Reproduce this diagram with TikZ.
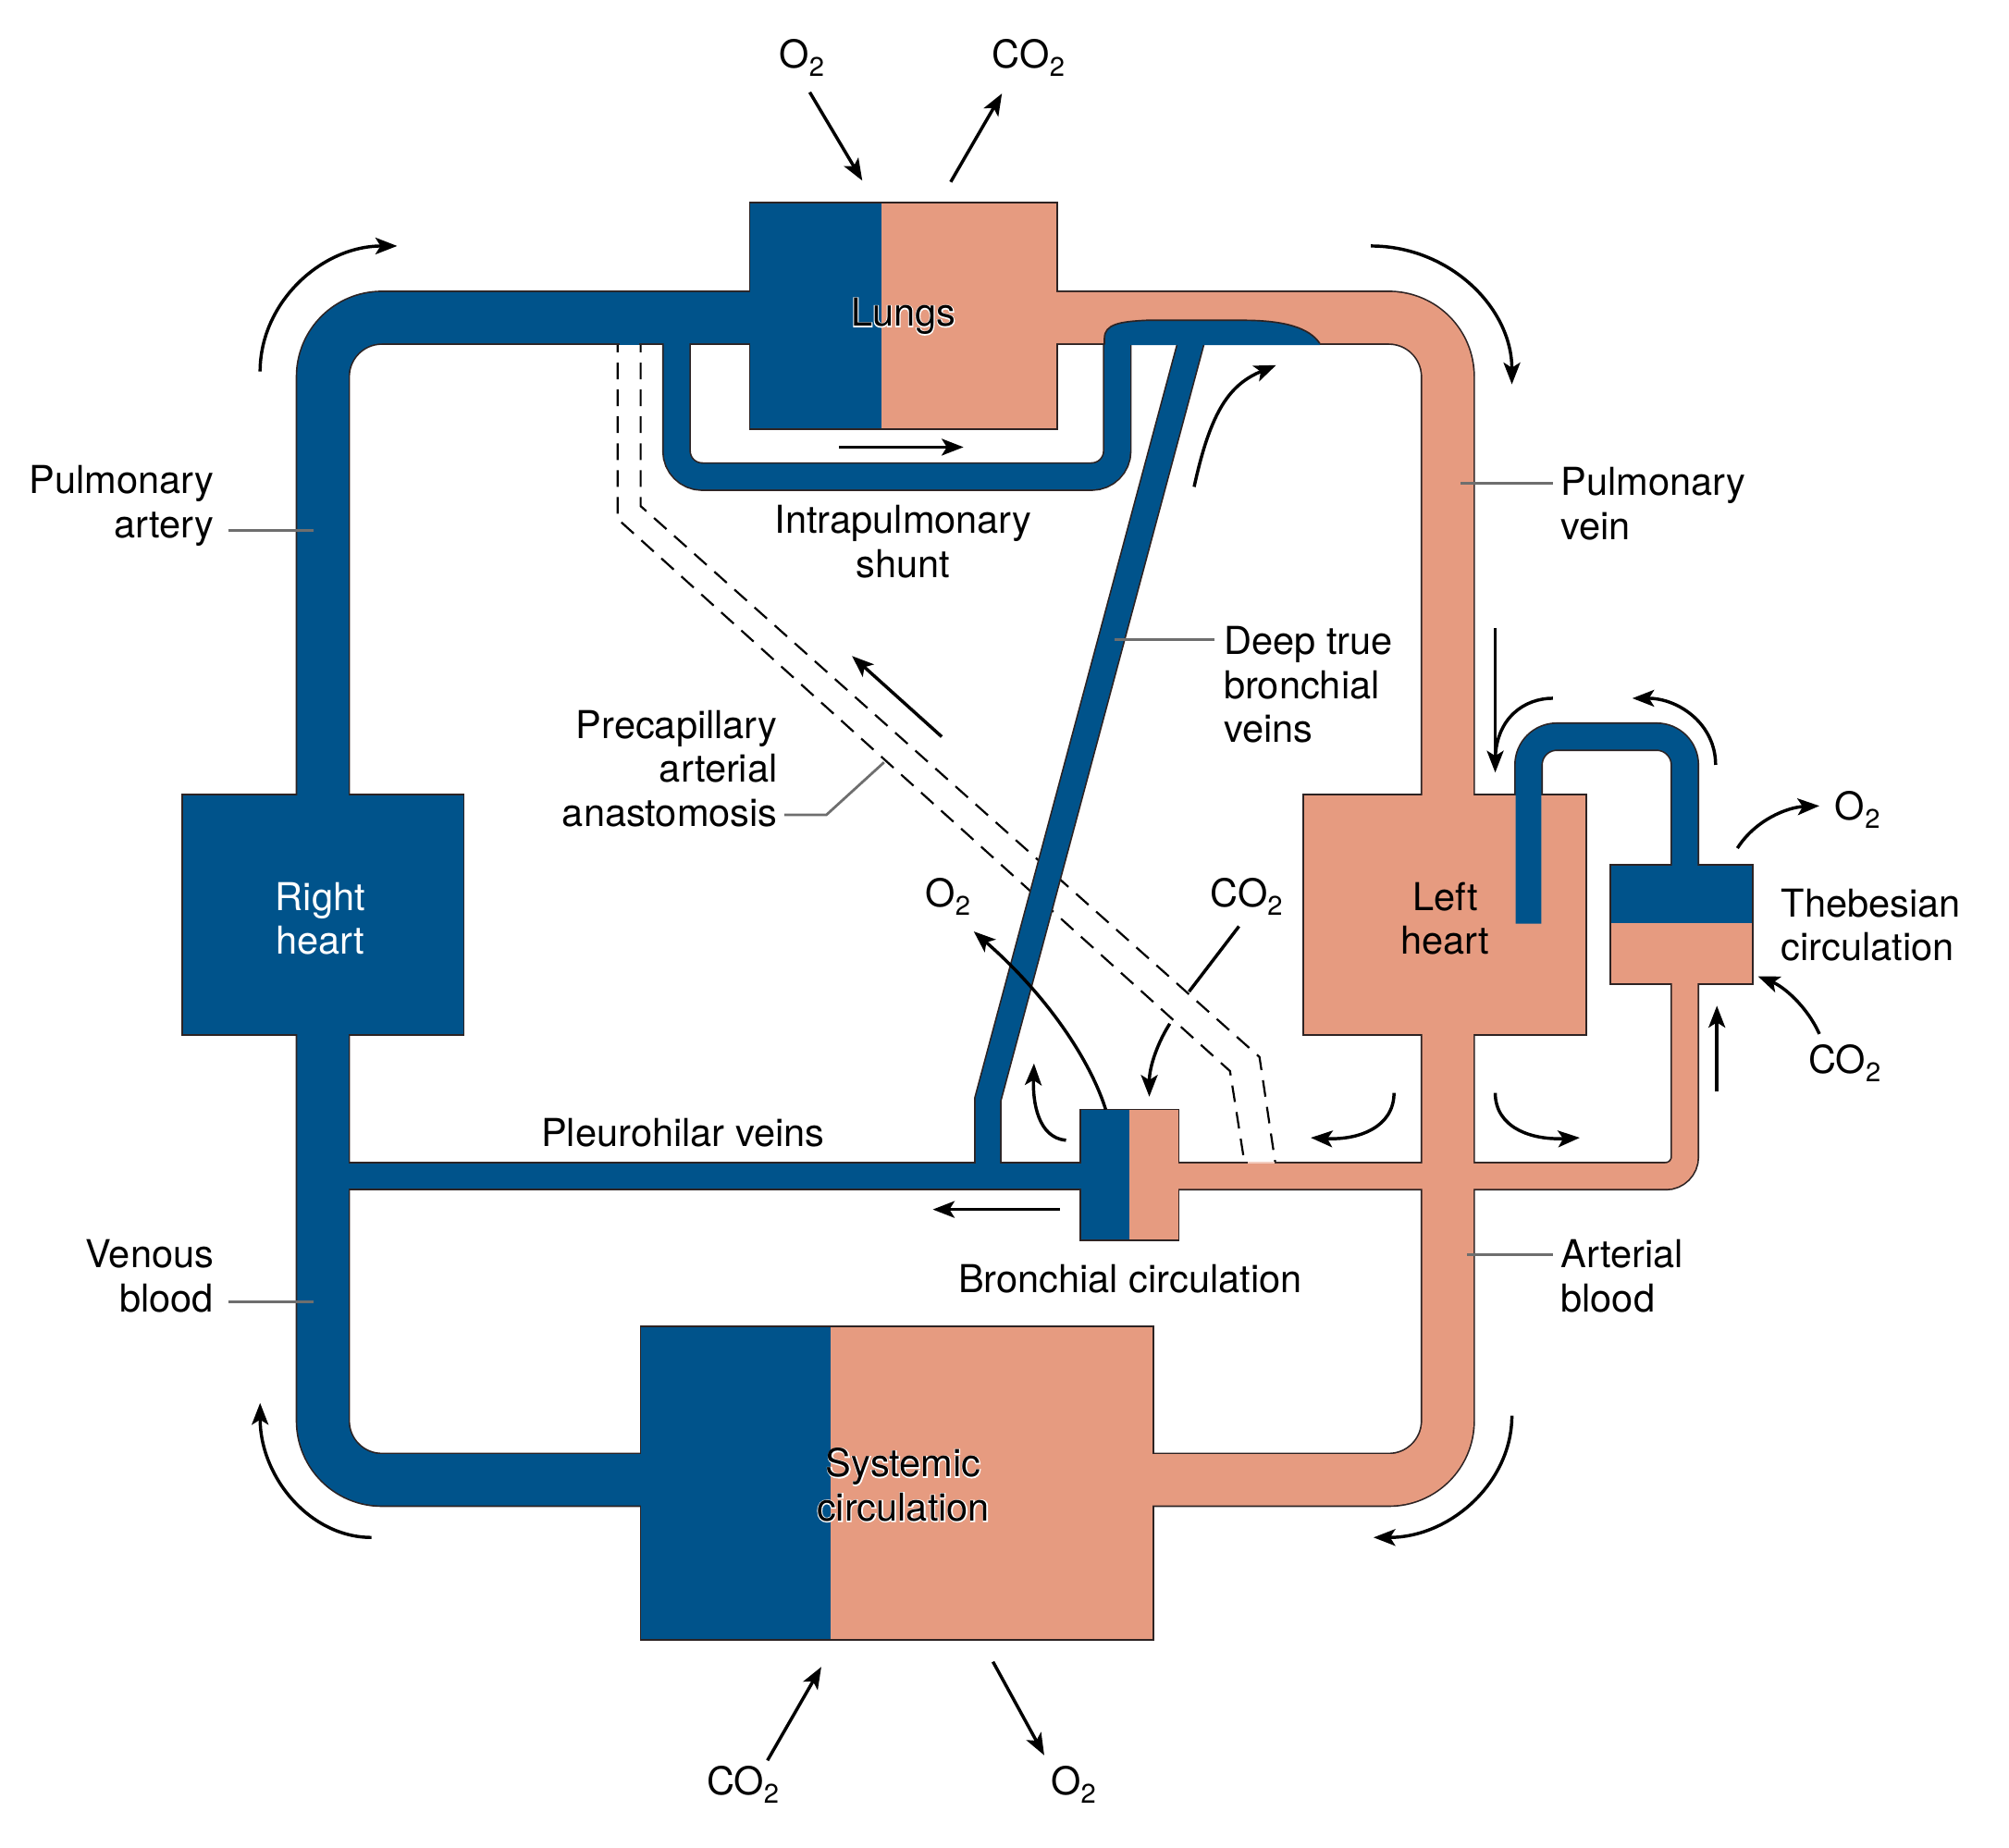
\documentclass[tikz,border=0pt]{standalone}
\usepackage{fontspec}
\setmainfont{TeX Gyre Heros}
\newfontfamily\halofont[FakeBold=5]{TeX Gyre Heros}
\usetikzlibrary{arrows.meta}
\definecolor{cven}{RGB}{0,83,139}
\definecolor{cart}{RGB}{230,155,128}
\definecolor{cedge}{RGB}{45,35,35}
\definecolor{cgray}{RGB}{110,110,110}
\newcommand{\Otwo}{O\textsubscript{2}}
\newcommand{\COtwo}{CO\textsubscript{2}}

\begin{document}
\begin{tikzpicture}[x=1pt,y=-1pt,
  font=\fontsize{30}{34.4}\selectfont,
  lbl/.style={inner sep=0pt,align=center},
  halo/.style={lbl,text=white,font=\halofont\fontsize{30}{34.4}\selectfont},
  rimbig/.style={draw=cedge,line width=42.4pt},
  bluebig/.style={draw=cven,line width=40pt},
  pinkbig/.style={draw=cart,line width=40pt},
  rimthin/.style={draw=cedge,line width=22.4pt},
  bluethin/.style={draw=cven,line width=20pt},
  pinkthin/.style={draw=cart,line width=20pt},
  organ/.style={draw=cedge,line width=1.2pt},
  flow/.style={-{Stealth[length=17pt,width=13pt,inset=4pt]},line width=2.5pt},
  lead/.style={draw=cgray,line width=2pt},
  dashv/.style={dash pattern=on 13pt off 8pt,line width=1.6pt},
]
\useasboundingbox (0,0) rectangle (1568,1442);

% precapillary anastomosis (behind the vessels)
\draw[dashv] (482,262) -- (482,405) -- (960,836) -- (972,912);
\draw[dashv] (500,262) -- (500,395) -- (983,825) -- (996,912);

% vessel rims
\draw[rimbig,rounded corners=46pt] (600,248) -- (252,248) -- (252,1155) -- (510,1155);
\draw[rimbig,rounded corners=46pt] (810,248) -- (1130,248) -- (1130,1155) -- (890,1155);
\draw[rimthin] (252,918) -- (850,918);
\draw[rimthin,rounded corners=15pt] (912,918) -- (1315,918) -- (1315,760);
\draw[rimthin,rounded corners=20pt] (528,248) -- (528,372) -- (872,372) -- (872,262);
\draw[rimthin,line width=21.4pt] (771,918) -- (771,858) -- (931,262);
\draw[rimthin,rounded corners=22pt] (1193,721) -- (1193,575) -- (1315,575) -- (1315,683);

% organs
\fill[cven] (585,158) rectangle (688,335);
\fill[cart] (688,158) rectangle (825,335);
\draw[organ] (585,158) rectangle (825,335);
\node[organ,fill=cven,minimum width=220pt,minimum height=188pt] (rheart) at (252,714) {};
\node[organ,fill=cart,minimum width=221pt,minimum height=188pt] (lheart) at (1127.5,714) {};
\fill[cven] (500,1035) rectangle (648,1280);
\fill[cart] (648,1035) rectangle (900,1280);
\draw[organ] (500,1035) rectangle (900,1280);
\fill[cven] (843,866) rectangle (881.5,968);
\fill[cart] (881.5,866) rectangle (920,968);
\draw[organ] (843,866) rectangle (920,968);
\fill[cven] (1257,675) rectangle (1368,720.5);
\fill[cart] (1257,720.5) rectangle (1368,768);
\draw[organ] (1257,675) rectangle (1368,768);

% vessel lumen
\draw[bluebig,rounded corners=46pt] (600,248) -- (252,248) -- (252,1155) -- (510,1155);
\draw[pinkbig,rounded corners=46pt] (810,248) -- (1130,248) -- (1130,1155) -- (890,1155);
\draw[bluethin] (252,918) -- (850,918);
\draw[pinkthin,rounded corners=15pt] (912,918) -- (1315,918) -- (1315,760);
\draw[bluethin,rounded corners=20pt] (528,248) -- (528,372) -- (872,372) -- (872,262);
\draw[bluethin,line width=19pt] (771,918) -- (771,858) -- (931,262);
\draw[bluethin,rounded corners=22pt] (1193,721) -- (1193,575) -- (1315,575) -- (1315,683);

% deep bronchial veins opening into the pulmonary vein
\fill[cven] (862,269.4) -- (862,264) .. controls (862,253) and (874,251) .. (895,250)
  -- (970,250) .. controls (1003,250) and (1022,256) .. (1030,268) -- (1030,269.4) -- cycle;
\draw[cedge,line width=1.2pt] (862,269) -- (862,264) .. controls (862,253) and (874,251) .. (895,250)
  -- (970,250) .. controls (1003,250) and (1022,256) .. (1030,268);
\fill[cven] (483.5,266.5) rectangle (498.5,269.5);
\fill[cart!50] (973.5,906.5) rectangle (995,908.3);

% organ names
\node[halo] at (705,247) {Lungs};
\node[halo] at (705,1159) {Systemic\\circulation};
\node[lbl] (lungslbl) at (705,247) {Lungs};
\node[lbl] (syslbl) at (705,1159) {Systemic\\circulation};
\node[lbl,text=white] (rheartlbl) at (250,717) {Right\\heart};
\node[lbl] (lheartlbl) at (1128,717) {Left\\heart};

% vessel labels
\node[lbl,anchor=east,align=right] (partery) at (167,395) {Pulmonary\\artery};
\node[lbl,anchor=west,align=left] (pvein) at (1218,393) {Pulmonary\\vein};
\node[lbl,anchor=east,align=right] (vblood) at (167,996) {Venous\\blood};
\node[lbl,anchor=west,align=left] (ablood) at (1218,996) {Arterial\\blood};
\node[lbl] (shunt) at (705,423) {Intrapulmonary\\shunt};
\node[lbl,anchor=west,align=left] (deepv) at (955,534.5) {Deep true\\bronchial\\veins};
\node[lbl,anchor=east,align=right] (precap) at (607,600) {Precapillary\\arterial\\anastomosis};
\node[lbl] (pleuro) at (533,884) {Pleurohilar veins};
\node[lbl] (bronch) at (882,998) {Bronchial circulation};
\node[lbl,anchor=west,align=left] (thebes) at (1390,722) {Thebesian\\circulation};

% leaders
\coordinate (paEnd) at (245,414);
\coordinate (pvEnd) at (1140,377);
\coordinate (vbEnd) at (245,1016);
\coordinate (abEnd) at (1145,979);
\coordinate (dvEnd) at (870,499);
\coordinate (anEnd) at (690,595);
\draw[lead] ([xshift=11pt]partery.east |- paEnd) -- (paEnd);
\draw[lead] ([xshift=-6pt]pvein.west |- pvEnd) -- (pvEnd);
\draw[lead] ([xshift=11pt]vblood.east |- vbEnd) -- (vbEnd);
\draw[lead] ([xshift=-6pt]ablood.west |- abEnd) -- (abEnd);
\draw[lead] ([xshift=-7pt]deepv.west |- dvEnd) -- (dvEnd);
\draw[lead] ([xshift=5pt]precap.east |- 0,636) -- (645,636) -- (anEnd);

% gases
\node[lbl] (o2lung) at (626,45) {\Otwo};
\node[lbl] (co2lung) at (803,45) {\COtwo};
\node[lbl] (o2bron) at (740,700) {\Otwo};
\node[lbl] (co2bron) at (973,700) {\COtwo};
\node[lbl] (o2theb) at (1450,632) {\Otwo};
\node[lbl] (co2theb) at (1440,830) {\COtwo};
\node[lbl] (co2sys) at (580,1393) {\COtwo};
\node[lbl] (o2sys) at (838,1393) {\Otwo};

\draw[flow] (632,72) -- (673,141);
\draw[flow] (742,142) -- (782,73);
\draw[flow] (599,1374) -- (641,1301);
\draw[flow] (775,1297) -- (815,1370);
\draw[flow] (863,866) .. controls (850,825) and (815,775) .. (760,727);
\draw[line width=2.5pt] (967,723) -- (928,774);
\draw[flow] (913,799) .. controls (904,813) and (897,832) .. (897,856);
\draw[flow] (1356,662) .. controls (1370,640) and (1395,630) .. (1420,629);
\draw[flow] (1420,807) .. controls (1410,785) and (1392,770) .. (1372,762);

% flow directions
\draw[flow] (203,290) .. controls (203,236) and (251,192) .. (310,192);
\draw[flow] (1070,192) .. controls (1131,192) and (1180,240) .. (1180,300);
\draw[flow] (1180,1105) .. controls (1180,1157) and (1132,1200) .. (1072,1200);
\draw[flow] (290,1200) .. controls (242,1200) and (203,1153) .. (203,1095);
\draw[flow] (655,349) -- (752,349);
\draw[flow] (735,575) -- (665,512);
\draw[flow] (932,380) .. controls (945,320) and (960,300) .. (996,285);
\draw[flow] (827,944) -- (728,944);
\draw[flow] (832,890) .. controls (810,888) and (806,860) .. (807,830);
\draw[flow] (1088,853) .. controls (1088,880) and (1060,890) .. (1023,888);
\draw[flow] (1167,853) .. controls (1167,880) and (1195,890) .. (1233,888);
\draw[flow] (1167,490) -- (1167,603);
\draw[line width=2.5pt] (1212,545) .. controls (1190,545) and (1168,560) .. (1167,592);
\draw[flow] (1339,597) .. controls (1339,565) and (1310,545) .. (1274,545);
\draw[flow] (1340,852) -- (1340,785);
\end{tikzpicture}
\end{document}
